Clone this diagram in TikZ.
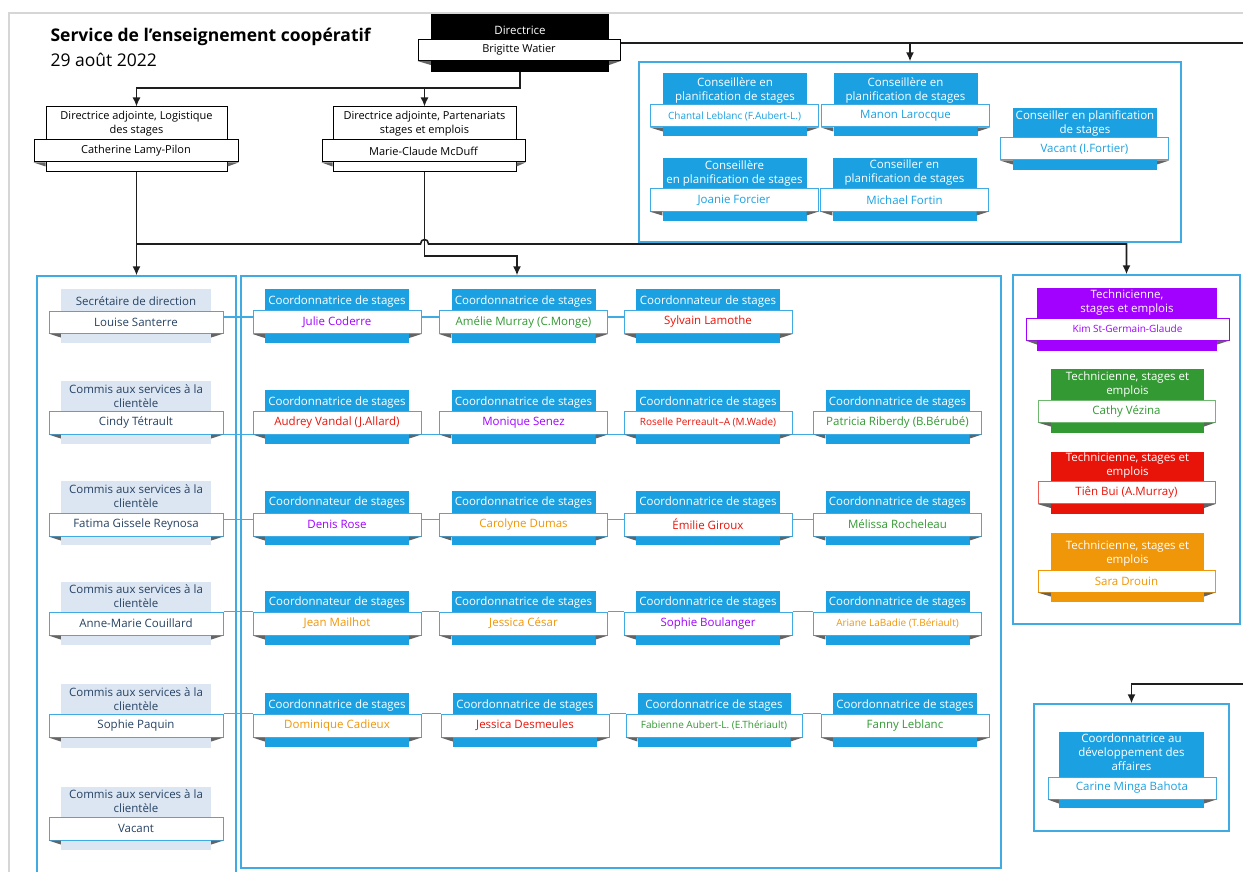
\documentclass[tikz,border=0pt]{standalone}
\usepackage{fontspec}
\setmainfont{Open Sans}
\usepackage{tikz}
\usetikzlibrary{arrows.meta}
\tikzset{>={Latex[length=9pt,width=8pt]}}
\usepackage{xcolor}
\definecolor{mbleu}{RGB}{27,161,226}
\definecolor{mcadre}{RGB}{64,170,226}
\definecolor{mclair}{RGB}{220,230,242}
\definecolor{mencre}{RGB}{38,66,99}
\definecolor{mviolet}{RGB}{162,0,255}
\definecolor{mvert}{RGB}{51,153,51}
\definecolor{mrouge}{RGB}{232,20,10}
\definecolor{morange}{RGB}{240,150,9}
\definecolor{mtrait}{RGB}{30,30,30}
\definecolor{mpli}{RGB}{100,100,100}
\definecolor{mpage}{RGB}{214,214,214}
\tikzstyle{cadre}=[draw=mcadre,line width=1.3pt,inner sep=0]
\tikzstyle{bloc}=[fill=mbleu,inner sep=0,minimum width=144,minimum height=54]
\tikzstyle{role}=[text=white,align=center,inner sep=0,font=\fontsize{11.5}{14}\selectfont]
\tikzstyle{nom}=[draw=mcadre,fill=white,text=black,line width=1pt,inner sep=0,minimum width=168,minimum height=23,font=\fontsize{11.5}{14}\selectfont]
\tikzstyle{petit}=[font=\fontsize{10}{12}\selectfont]
\tikzstyle{fleche}=[draw=mtrait,line width=1.6pt]
\tikzstyle{lien}=[draw=mcadre,line width=1.2pt]

\begin{document}
\begin{tikzpicture}[x=1pt,y=-1pt]
\useasboundingbox (0,0) rectangle (1243,872);
\draw[mpage,line width=2pt] (9,872) -- (9,13.5) -- (1243,13.5);

\node[anchor=west,font=\fontsize{17.5}{20}\selectfont\bfseries] (titre) at (47,37) {Service de l’enseignement coopératif};
\node[anchor=west,font=\fontsize{17.5}{20}\selectfont] (date) at (47,60) {29 août 2022};

% cadres
\node[cadre,minimum width=199,minimum height=612] (gauche) at (136.5,582) {};
\node[cadre,minimum width=760,minimum height=592] (centre) at (621,572) {};
\node[cadre,minimum width=542,minimum height=180] (cons) at (910,152) {};
\node[cadre,minimum width=227,minimum height=349] (tech) at (1126.5,449.5) {};
\node[cadre,minimum width=195,minimum height=127] (dev) at (1131.5,767.5) {};

% direction
\node[bloc,fill=black,minimum width=178,minimum height=58] (bdir) at (520,43) {};
\node[role] (rdir) at (520,30) {Directrice};
\node[nom,draw=black,minimum width=202,minimum height=21,font=\fontsize{11}{14}\selectfont] (ndir) at (519,50) {Brigitte Watier};

\node[bloc,fill=white,draw=black,line width=1pt,minimum width=181,minimum height=65] (ba1) at (136.5,139.5) {};
\node[role,text=black,font=\fontsize{11}{14}\selectfont] (ra1) at (136.5,124) {Directrice adjointe, Logistique\\des stages};
\node[nom,draw=black,minimum width=204,minimum height=22,font=\fontsize{11}{14}\selectfont] (na1) at (136,151) {Catherine Lamy-Pilon};

\node[bloc,fill=white,draw=black,line width=1pt,minimum width=183,minimum height=65] (ba2) at (424.5,139.5) {};
\node[role,text=black,font=\fontsize{11}{14}\selectfont] (ra2) at (424.5,124) {Directrice adjointe, Partenariats\\stages et emplois};
\node[nom,draw=black,minimum width=203,minimum height=22,font=\fontsize{11}{14}\selectfont] (na2) at (423.5,151) {Marie-Claude McDuff};

% conseillers
\node[bloc,minimum height=63] (bc1) at (735,104.5) {};
\node[role] (rc1) at (735,90.5) {Conseillère en\\planification de stages};
\node[nom,petit,text=mbleu,minimum height=22] (nc1) at (734.5,116) {Chantal Leblanc (F.Aubert-L.)};

\node[bloc,minimum height=63] (bc2) at (905.5,104.5) {};
\node[role] (rc2) at (905.5,90.5) {Conseillère en\\planification de stages};
\node[nom,text=mbleu,minimum height=22] (nc2) at (905.5,116) {Manon Larocque};

\node[bloc,minimum height=63] (bc3) at (734.5,189.5) {};
\node[role] (rc3) at (734.5,173) {Conseillère\\en planification de stages};
\node[nom,text=mbleu,minimum height=22] (nc3) at (734,200) {Joanie Forcier};

\node[bloc,minimum height=63] (bc4) at (904.5,189.5) {};
\node[role] (rc4) at (904.5,173) {Conseiller en\\planification de stages};
\node[nom,text=mbleu,minimum height=22] (nc4) at (904.5,200) {Michael Fortin};

\node[bloc,minimum height=62] (bc5) at (1085,139) {};
\node[role] (rc5) at (1085,123.5) {Conseiller en planification\\de stages};
\node[nom,text=mbleu,minimum height=22] (nc5) at (1084.5,149) {Vacant (I.Fortier)};

% secretariat
\node[bloc,fill=mclair,minimum width=150] (bg1) at (136,316) {};
\node[role,text=mencre] (rg1) at (136,301) {Secrétaire de direction};
\node[nom,text=mencre,minimum width=174,minimum height=22] (ng1) at (136,322) {Louise Santerre};

\node[bloc,fill=mclair,minimum width=150,minimum height=63] (bg2) at (136,412.5) {};
\node[role,text=mencre] (rg2) at (136,396) {Commis aux services à la\\clientèle};
\node[nom,text=mencre,minimum width=174] (ng2) at (136,422.5) {Cindy Tétrault};

\node[bloc,fill=mclair,minimum width=150,minimum height=64] (bg3) at (136,513) {};
\node[role,text=mencre] (rg3) at (136,496.5) {Commis aux services à la\\clientèle};
\node[nom,text=mencre,minimum width=174] (ng3) at (136,524.5) {Fatima Gissele Reynosa};

\node[bloc,fill=mclair,minimum width=150,minimum height=63] (bg4) at (136,613.5) {};
\node[role,text=mencre] (rg4) at (136,596) {Commis aux services à la\\clientèle};
\node[nom,text=mencre,minimum width=174] (ng4) at (136,623.5) {Anne-Marie Couillard};

\node[bloc,fill=mclair,minimum width=150,minimum height=64] (bg5) at (136,716) {};
\node[role,text=mencre] (rg5) at (136,699) {Commis aux services à la\\clientèle};
\node[nom,text=mencre,minimum width=174] (ng5) at (136,725.5) {Sophie Paquin};

\node[bloc,fill=mclair,minimum width=150,minimum height=63] (bg6) at (136,818.5) {};
\node[role,text=mencre] (rg6) at (136,801.5) {Commis aux services à la\\clientèle};
\node[nom,text=mencre,minimum width=174] (ng6) at (136,828.5) {Vacant};

% coordination, rang 1
\node[bloc] (b11) at (337,316) {};
\node[role] (r11) at (337,302) {Coordonnatrice de stages};
\node[nom,text=mviolet] (n11) at (337,322) {Julie Coderre};
\node[bloc] (b12) at (523.5,316) {};
\node[role] (r12) at (523.5,302) {Coordonnatrice de stages};
\node[nom,text=mvert] (n12) at (523.5,322) {Amélie Murray (C.Monge)};
\node[bloc] (b13) at (708,316) {};
\node[role] (r13) at (708,302) {Coordonnateur de stages};
\node[nom,text=mrouge] (n13) at (708,322) {Sylvain Lamothe};

% rang 2
\node[bloc] (b21) at (337,417) {};
\node[role] (r21) at (337,403) {Coordonnatrice de stages};
\node[nom,text=mrouge] (n21) at (337,422.5) {Audrey Vandal (J.Allard)};
\node[bloc] (b22) at (523.5,417) {};
\node[role] (r22) at (523.5,403) {Coordonnatrice de stages};
\node[nom,text=mviolet] (n22) at (523.5,422.5) {Monique Senez};
\node[bloc] (b23) at (708,417) {};
\node[role] (r23) at (708,403) {Coordonnatrice de stages};
\node[nom,petit,text=mrouge] (n23) at (708,422.5) {Roselle Perreault–A (M.Wade)};
\node[bloc] (b24) at (897.5,417) {};
\node[role] (r24) at (897.5,403) {Coordonnatrice de stages};
\node[nom,text=mvert] (n24) at (897.5,422.5) {Patricia Riberdy (B.Bérubé)};

% rang 3
\node[bloc] (b31) at (337,518) {};
\node[role] (r31) at (337,503) {Coordonnateur de stages};
\node[nom,text=mviolet] (n31) at (337,524.5) {Denis Rose};
\node[bloc] (b32) at (523.5,518) {};
\node[role] (r32) at (523.5,503) {Coordonnatrice de stages};
\node[nom,text=morange] (n32) at (523.5,524.5) {Carolyne Dumas};
\node[bloc] (b33) at (708,518) {};
\node[role] (r33) at (708,503) {Coordonnatrice de stages};
\node[nom,text=mrouge] (n33) at (708,524.5) {Émilie Giroux};
\node[bloc] (b34) at (897.5,518) {};
\node[role] (r34) at (897.5,503) {Coordonnatrice de stages};
\node[nom,text=mvert] (n34) at (897.5,524.5) {Mélissa Rocheleau};

% rang 4
\node[bloc] (b41) at (337,618) {};
\node[role] (r41) at (337,603) {Coordonnateur de stages};
\node[nom,text=morange] (n41) at (337,623.5) {Jean Mailhot};
\node[bloc] (b42) at (523.5,618) {};
\node[role] (r42) at (523.5,603) {Coordonnatrice de stages};
\node[nom,text=morange] (n42) at (523.5,623.5) {Jessica César};
\node[bloc] (b43) at (708,618) {};
\node[role] (r43) at (708,603) {Coordonnatrice de stages};
\node[nom,text=mviolet] (n43) at (708,623.5) {Sophie Boulanger};
\node[bloc] (b44) at (897.5,618) {};
\node[role] (r44) at (897.5,603) {Coordonnatrice de stages};
\node[nom,petit,text=morange] (n44) at (897.5,623.5) {Ariane LaBadie (T.Bériault)};

% rang 5
\node[bloc] (b51) at (337,720) {};
\node[role] (r51) at (337,706) {Coordonnatrice de stages};
\node[nom,text=morange] (n51) at (337,725.5) {Dominique Cadieux};
\node[bloc] (b52) at (525,720) {};
\node[role] (r52) at (525,706) {Coordonnatrice de stages};
\node[nom,text=mrouge] (n52) at (525,725.5) {Jessica Desmeules};
\node[bloc,minimum width=153] (b53) at (714,720) {};
\node[role] (r53) at (714,706) {Coordonnatrice de stages};
\node[nom,petit,text=mvert,minimum width=176] (n53) at (714,725.5) {Fabienne Aubert-L. (E.Thériault)};
\node[bloc] (b54) at (905,720) {};
\node[role] (r54) at (905,706) {Coordonnatrice de stages};
\node[nom,text=mvert] (n54) at (905,725.5) {Fanny Leblanc};

% techniciennes
\node[bloc,fill=mviolet,minimum width=180,minimum height=63] (bt1) at (1127,319.5) {};
\node[role] (rt1) at (1127,302.5) {Technicienne,\\stages et emplois};
\node[nom,petit,draw=mviolet,text=mviolet,minimum width=203,minimum height=22] (nt1) at (1127.5,329) {Kim St-Germain-Glaude};

\node[bloc,fill=mvert,minimum width=153,minimum height=64] (bt2) at (1127.5,401) {};
\node[role] (rt2) at (1127.5,384.5) {Technicienne, stages et\\emplois};
\node[nom,draw=mvert!70,text=mvert,minimum width=177,minimum height=22] (nt2) at (1126.5,411) {Cathy Vézina};

\node[bloc,fill=mrouge,minimum width=153,minimum height=62] (bt3) at (1127.5,483) {};
\node[role] (rt3) at (1127.5,466) {Technicienne, stages et\\emplois};
\node[nom,draw=mrouge!70,text=mrouge,minimum width=177,minimum height=22] (nt3) at (1126.5,492.5) {Tiên Bui (A.Murray)};

\node[bloc,fill=morange,minimum width=153,minimum height=69] (bt4) at (1127.5,567.5) {};
\node[role] (rt4) at (1127.5,554) {Technicienne, stages et\\emplois};
\node[nom,draw=morange,text=morange,minimum width=177,minimum height=22] (nt4) at (1126.5,581) {Sara Drouin};

% developpement
\node[bloc,minimum width=145,minimum height=76] (bd) at (1131.5,770) {};
\node[role] (rd) at (1131.5,752.5) {Coordonnatrice au\\développement des\\affaires};
\node[nom,text=mbleu,minimum height=22] (nd) at (1132,788) {Carine Minga Bahota};

% plis sous les bandeaux
\foreach \i in {dir,a1,a2,c1,c2,c3,c4,c5,g1,g2,g3,g4,g5,g6,11,12,13,21,22,23,24,31,32,33,34,41,42,43,44,51,52,53,54,t1,t2,t3,t4,d} {
  \fill[mpli] (n\i.south west) -- (n\i.south west -| b\i.west) -- ++(0,4) -- cycle;
  \fill[mpli] (n\i.south east) -- (n\i.south east -| b\i.east) -- ++(0,4) -- cycle;
}

% liens
\coordinate (bordh) at (1243,43);
\coordinate (bordb) at (1243,684);
\coordinate (coude) at (517,256);
\draw[fleche,->] (bdir.south) -- ++(0,16) -| (ba1.north);
\draw[fleche,->] (bdir.south) ++(0,16) -| (ba2.north);
\draw[fleche] (ndir.east |- bordh) -- (bordh);
\draw[fleche,->] (cons.north |- bordh) -- (cons.north);
\draw[fleche,->] (ba1.south) -- (gauche.north);
\draw[fleche,->] (ba1.south |- 0,244) -- (420.5,244) .. controls (420.5,238) and (428.5,238) .. (428.5,244) -| (tech.north);
\draw[fleche,->] (ba2.south) |- (coude) -- (coude |- centre.north);
\draw[fleche,->] (bordb) -| (dev.north);

\draw[lien] ([yshift=5pt]ng1.east) -- ([yshift=5pt]n11.west) ([yshift=5pt]n11.east) -- ([yshift=5pt]n12.west) ([yshift=5pt]n12.east) -- ([yshift=5pt]n13.west);
\draw[lien] (ng2.south east) -- (n21.south west) (n21.south east) -- (n22.south west) (n22.south east) -- (n23.south west) (n23.south east) -- (n24.south west);
\draw[lien] ([yshift=5pt]ng3.east) -- ([yshift=5pt]n31.west) ([yshift=5pt]n31.east) -- ([yshift=5pt]n32.west) ([yshift=5pt]n32.east) -- ([yshift=5pt]n33.west) ([yshift=5pt]n33.east) -- ([yshift=5pt]n34.west);
\draw[lien] (ng4.north east) -- (n41.north west) (n41.north east) -- (n42.north west) (n42.north east) -- (n43.north west) (n43.north east) -- (n44.north west);
\draw[lien] (ng5.north east) -- (n51.north west) (n51.north east) -- (n52.north west) (n52.north east) -- (n53.north west) (n53.north east) -- (n54.north west);
\end{tikzpicture}
\end{document}
